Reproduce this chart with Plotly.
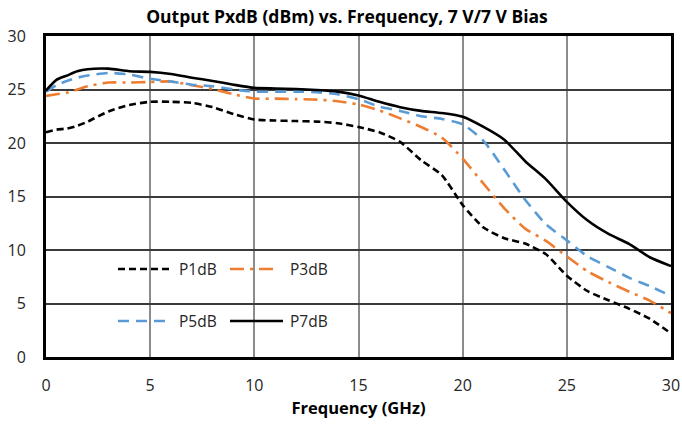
import plotly.graph_objects as go

freq = [0, 0.5, 1, 1.5, 2, 3, 4, 5, 6, 7, 8, 9, 10, 11, 12, 13, 14, 15,
        16, 17, 18, 19, 20, 21, 22, 23, 24, 25, 26, 27, 28, 29, 30]

p1db = [21.0, 21.25, 21.35, 21.6, 22.0, 22.95, 23.55, 23.85, 23.85, 23.75, 23.35, 22.7,
        22.2, 22.1, 22.05, 22.0, 21.85, 21.5, 21.0, 20.1, 18.4, 17.0, 14.2, 12.1,
        11.1, 10.6, 9.6, 7.6, 6.15, 5.3, 4.5, 3.55, 2.2]
p3db = [24.4, 24.55, 24.7, 25.0, 25.3, 25.65, 25.65, 25.7, 25.75, 25.4, 25.05, 24.55,
        24.15, 24.15, 24.1, 24.05, 23.9, 23.6, 23.05, 22.3, 21.5, 20.5, 18.55, 16.2,
        13.9, 12.0, 10.85, 9.4, 8.0, 7.0, 6.1, 5.25, 4.1]
p5db = [24.8, 25.4, 25.8, 26.1, 26.3, 26.55, 26.4, 26.0, 25.75, 25.45, 25.3, 25.0,
        24.8, 24.8, 24.8, 24.75, 24.55, 24.1, 23.4, 23.0, 22.5, 22.25, 21.75, 20.2,
        17.5, 14.7, 12.4, 10.9, 9.4, 8.4, 7.4, 6.6, 5.7]
p7db = [24.9, 25.9, 26.3, 26.7, 26.9, 26.95, 26.7, 26.65, 26.45, 26.1, 25.8, 25.45,
        25.15, 25.1, 25.05, 24.95, 24.8, 24.45, 23.85, 23.35, 23.0, 22.8, 22.45, 21.5,
        20.3, 18.3, 16.6, 14.5, 12.75, 11.5, 10.55, 9.3, 8.5]

names = ["P1dB", "P3dB", "P5dB", "P7dB"]
series = [p1db, p3db, p5db, p7db]
colors = ["#000000", "#ED7D31", "#5B9BD5", "#000000"]
dashes = ["7px,4px", "14px,6px,3px,6px", "11px,7px", "solid"]

x_ticks = [0, 5, 10, 15, 20, 25, 30]
y_ticks = [0, 5, 10, 15, 20, 25, 30]

FONT = "Open Sans"
L, R, T, B = 46, 671, 36, 357
PW, PH = R - L, B - T

fig = go.Figure()
for n, s, c, d in zip(names, series, colors, dashes):
    fig.add_trace(go.Scatter(x=freq, y=s, name=n, mode="lines",
                             line=dict(color=c, width=2.6, dash=d, shape="spline", smoothing=0.6),
                             showlegend=False))

# manual legend box (white, above gridlines, below traces)
fig.add_shape(type="rect", xref="paper", yref="paper",
              x0=(110 - L) / PW, x1=(334 - L) / PW,
              y0=(B - 346) / PH, y1=(B - 243) / PH,
              fillcolor="white", line=dict(width=0), layer="between")

leg_pos = [(118, 172, 269, 177), (230, 275, 269, 288), (118, 172, 321, 177), (230, 283, 321, 288)]
for (x0, x1, yy, tx), n, c, d in zip(leg_pos, names, colors, dashes):
    fig.add_shape(type="line", xref="paper", yref="paper",
                  x0=(x0 - L) / PW, x1=(x1 - L) / PW,
                  y0=(B - yy) / PH, y1=(B - yy) / PH,
                  line=dict(color=c, width=2.6, dash=d), layer="above")
    fig.add_annotation(text=n, xref="paper", yref="paper",
                       x=(tx - L) / PW, y=(B - yy) / PH,
                       xanchor="left", yanchor="middle", showarrow=False,
                       font=dict(family=FONT, size=15.5, color="#262626"))

fig.update_layout(
    width=682, height=426,
    margin=dict(l=L, r=682 - R, t=T, b=426 - B),
    paper_bgcolor="white", plot_bgcolor="white",
    title=dict(text="<b>Output PxdB (dBm) vs. Frequency, 7 V/7 V Bias</b>",
               x=347 / 682, xanchor="center", y=1 - 17 / 426, yanchor="middle",
               font=dict(family=FONT, size=17.5, color="#000000")),
    xaxis=dict(range=[0, 30], tickvals=x_ticks, ticktext=[str(v) for v in x_ticks],
               showgrid=True, gridcolor="#8C8C8C", gridwidth=1.5,
               showline=True, linecolor="black", linewidth=3, mirror=True,
               zeroline=False, ticks="", ticklabelstandoff=12, automargin=False,
               tickfont=dict(family=FONT, size=16, color="#262626"),
               title=dict(text="<b>Frequency (GHz)</b>", standoff=6,
                          font=dict(family=FONT, size=16.5, color="#000000"))),
    yaxis=dict(range=[0, 30], tickvals=y_ticks, ticktext=[str(v) for v in y_ticks],
               showgrid=True, gridcolor="#3A3A3A", gridwidth=1.5,
               showline=True, linecolor="black", linewidth=3, mirror=True,
               zeroline=False, ticks="", ticklabelstandoff=14, automargin=False,
               tickfont=dict(family=FONT, size=16, color="#262626")),
)

fig.write_html("out.html")
